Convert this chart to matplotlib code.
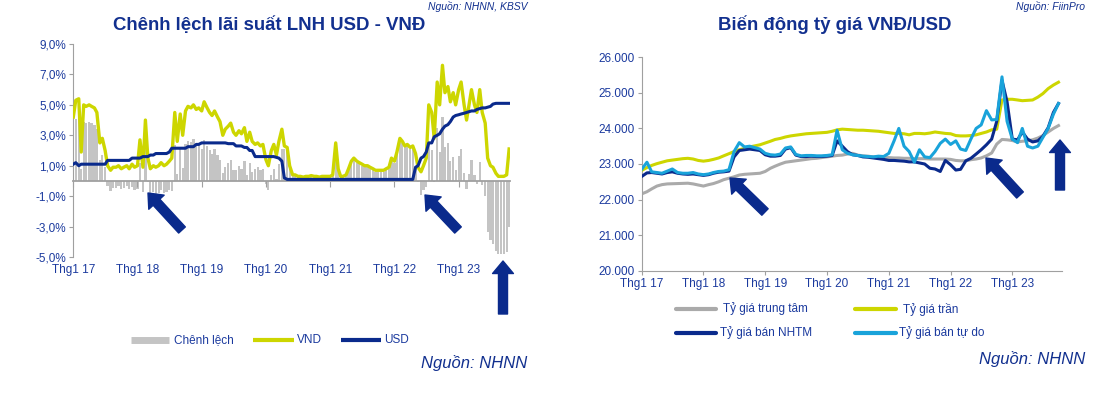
import matplotlib
matplotlib.use('Agg')
import matplotlib.pyplot as plt
import matplotlib.dates as mdates
from matplotlib.lines import Line2D
from matplotlib.patches import FancyArrowPatch
import numpy as np
import pandas as pd

plt.rcParams['font.family'] = ['Liberation Sans', 'DejaVu Sans']

W, H = 1117, 415

# ---- Biểu đồ 1: lãi suất LNH (nửa tháng một điểm, 01/2017 - 10/2023)
vnd = [
    4.2, 5.3, 5.4, 1.9, 5.0, 4.9, 5.0, 4.9, 4.8, 4.5, 2.5, 2.8, 2.0, 1.0, 0.7, 0.9, 0.9, 1.0, 0.8, 0.9, 1.0, 0.8, 1.1, 0.9,
    1.0, 2.7, 0.9, 4.0, 1.5, 0.8, 1.0, 0.9, 1.0, 1.2, 1.0, 1.1, 1.3, 1.5, 4.5, 2.6, 4.4, 3.0, 4.6, 4.9, 4.8, 5.0, 4.7, 4.8,
    4.6, 5.2, 4.8, 4.5, 4.3, 4.6, 4.2, 3.9, 3.0, 3.4, 3.6, 3.8, 3.2, 3.0, 3.3, 3.1, 3.5, 2.6, 3.2, 2.6, 2.4, 2.5, 2.3, 2.4,
    1.4, 1.0, 2.0, 2.4, 1.7, 2.6, 3.4, 2.3, 2.2, 1.0, 0.4, 0.4, 0.3, 0.3, 0.25, 0.3, 0.3, 0.35, 0.3, 0.3, 0.25, 0.3, 0.3, 0.3,
    0.3, 0.4, 2.5, 0.8, 0.3, 0.3, 0.4, 0.8, 1.3, 1.5, 1.3, 1.2, 1.1, 1.0, 1.0, 0.9, 0.8, 0.7, 0.7, 0.7, 0.7, 0.8, 0.9, 1.5,
    1.3, 1.9, 2.8, 2.6, 2.3, 2.4, 2.2, 2.3, 1.8, 0.9, 0.6, 1.0, 1.5, 5.0, 4.5, 2.8, 6.5, 5.0, 7.6, 5.8, 6.2, 5.2, 5.8, 5.0,
    6.0, 6.5, 5.0, 4.0, 5.0, 6.0, 5.0, 4.5, 6.0, 4.5, 3.8, 1.5, 1.0, 0.9, 0.5, 0.3, 0.3, 0.3, 0.4, 2.1,
]
usd = [
    1.1, 1.2, 1.0, 1.1, 1.1, 1.1, 1.1, 1.1, 1.1, 1.1, 1.1, 1.1, 1.1, 1.35, 1.35, 1.35, 1.35, 1.35, 1.35, 1.35, 1.35, 1.35, 1.5, 1.5,
    1.5, 1.5, 1.6, 1.6, 1.6, 1.7, 1.7, 1.8, 1.8, 1.8, 1.8, 1.8, 1.9, 2.15, 2.15, 2.15, 2.15, 2.15, 2.15, 2.25, 2.25, 2.25, 2.4, 2.4,
    2.5, 2.5, 2.5, 2.5, 2.5, 2.5, 2.5, 2.5, 2.5, 2.5, 2.45, 2.45, 2.45, 2.3, 2.3, 2.3, 2.2, 2.2, 2.0, 2.0, 1.6, 1.6, 1.6, 1.6,
    1.6, 1.6, 1.6, 1.6, 1.55, 1.5, 1.3, 0.2, 0.1, 0.1, 0.1, 0.1, 0.1, 0.1, 0.1, 0.1, 0.1, 0.1, 0.1, 0.1, 0.1, 0.1, 0.1, 0.1,
    0.1, 0.1, 0.1, 0.1, 0.1, 0.1, 0.1, 0.1, 0.1, 0.1, 0.1, 0.1, 0.1, 0.1, 0.1, 0.1, 0.1, 0.1, 0.1, 0.1, 0.1, 0.1, 0.1, 0.1,
    0.1, 0.1, 0.1, 0.1, 0.1, 0.1, 0.1, 0.1, 0.9, 1.0, 1.5, 1.6, 1.9, 2.5, 2.5, 2.9, 3.0, 3.1, 3.4, 3.6, 3.7, 3.9, 4.2, 4.3,
    4.35, 4.4, 4.45, 4.5, 4.55, 4.6, 4.6, 4.7, 4.75, 4.8, 4.8, 4.85, 4.9, 5.05, 5.1, 5.1, 5.1, 5.1, 5.1, 5.1,
]
spread = np.array(vnd) - np.array(usd)   # chênh lệch = VND - USD
x_ls = mdates.date2num(pd.date_range('2017-01-01', periods=len(vnd), freq='SMS').to_pydatetime())

# ---- Biểu đồ 2: tỷ giá (mỗi tháng một điểm, 01/2017 - 10/2023)
trung_tam = [
    22160, 22220, 22300, 22380, 22420, 22440, 22445, 22450, 22455, 22460, 22440, 22410,
    22380, 22420, 22450, 22500, 22560, 22600, 22640, 22690, 22710, 22720, 22730, 22740,
    22790, 22880, 22940, 23000, 23050, 23070, 23090, 23110, 23130, 23150, 23160, 23180,
    23200, 23220, 23240, 23250, 23280, 23300, 23250, 23230, 23220, 23200, 23190, 23180,
    23180, 23170, 23170, 23160, 23160, 23150, 23150, 23150, 23140, 23140, 23140, 23140,
    23130, 23100, 23090, 23090, 23120, 23140, 23170, 23230, 23310, 23560, 23690, 23680,
    23660, 23620, 23640, 23650, 23680, 23730, 23800, 23900, 24000, 24080,
]
tran = [
    22820, 22900, 22960, 23010, 23050, 23090, 23110, 23130, 23150, 23160, 23140, 23100,
    23080, 23100, 23130, 23170, 23230, 23290, 23350, 23400, 23440, 23480, 23510, 23540,
    23590, 23640, 23690, 23720, 23760, 23790, 23810, 23830, 23850, 23860, 23870, 23880,
    23890, 23920, 23960, 23980, 23970, 23960, 23950, 23950, 23940, 23930, 23920, 23900,
    23880, 23860, 23860, 23850, 23820, 23860, 23860, 23850, 23870, 23900, 23880, 23860,
    23850, 23800, 23790, 23790, 23800, 23820, 23860, 23900, 23960, 23980, 24800, 24820,
    24820, 24800, 24780, 24790, 24800, 24880, 24980, 25120, 25220, 25300,
]
nhtm = [
    22650, 22750, 22760, 22740, 22720, 22760, 22780, 22740, 22720, 22710, 22720, 22700,
    22680, 22700, 22740, 22770, 22780, 22800, 23200, 23380, 23400, 23420, 23400, 23380,
    23260, 23220, 23220, 23240, 23420, 23460, 23250, 23210, 23210, 23220, 23210, 23210,
    23220, 23240, 23650, 23500, 23350, 23260, 23240, 23200, 23190, 23170, 23150, 23130,
    23100, 23100, 23090, 23080, 23060, 23060, 23030, 23000, 22880, 22860, 22790, 23100,
    22980, 22830, 22850, 23090, 23160, 23280, 23400, 23540, 23700, 24200, 25350, 24750,
    23700, 23680, 23900, 23700, 23620, 23650, 23780, 24020, 24450, 24700,
]
tu_do = [
    22850, 23050, 22780, 22760, 22740, 22800, 22860, 22760, 22740, 22740, 22760, 22720,
    22700, 22720, 22760, 22790, 22800, 22840, 23350, 23600, 23480, 23500, 23460, 23420,
    23300, 23260, 23250, 23280, 23450, 23480, 23270, 23230, 23240, 23240, 23230, 23230,
    23240, 23260, 23950, 23400, 23300, 23260, 23240, 23220, 23210, 23200, 23220, 23210,
    23300, 23650, 24000, 23500, 23350, 23050, 23400, 23200, 23180, 23350, 23580, 23700,
    23550, 23650, 23420, 23380, 23700, 24000, 24100, 24500, 24240, 24250, 25450, 24200,
    23700, 23600, 24000, 23500, 23450, 23500, 23750, 24000, 24400, 24700,
]
x_tg = mdates.date2num(pd.date_range('2017-01-01', periods=len(trung_tam), freq='MS').to_pydatetime())

nam_labels = ['Thg1 17', 'Thg1 18', 'Thg1 19', 'Thg1 20', 'Thg1 21', 'Thg1 22', 'Thg1 23']
nam_ticks = mdates.date2num(pd.date_range('2017-01-01', periods=7, freq='YS').to_pydatetime())
x_end = mdates.date2num(pd.Timestamp('2023-10-20').to_pydatetime())

# màu
XANH_CHU = '#1b3a9e'
TITLE_C = '#12308f'
VANG = '#cdd600'
NAVY = '#0a2a8c'
XANH_NHAT = '#19a3da'
XAM = '#c4c4c4'
XAM_TT = '#aaaaaa'
TRUC = '#a0a0a0'

fig = plt.figure(figsize=(W / 100, H / 100), dpi=100)


def fx(px):
    return px / W


def fy(py):
    return 1 - py / H


# ================= Chart 1 =================
ax1 = fig.add_axes([fx(73.3), fy(257), fx(510 - 73.3), (257 - 44) / H])
ax1.bar(x_ls, spread, width=12.5, color=XAM, linewidth=0, zorder=1)
ax1.plot(x_ls, vnd, color=VANG, lw=2.4, zorder=3)
ax1.plot(x_ls, usd, color=NAVY, lw=2.2, zorder=4)
ax1.set_xlim(nam_ticks[0], x_end)
ax1.set_ylim(-5, 9)
ax1.set_yticks([9, 7, 5, 3, 1, -1, -3, -5])
ax1.set_yticklabels(['9,0%', '7,0%', '5,0%', '3,0%', '1,0%', '-1,0%', '-3,0%', '-5,0%'])
for s in ['top', 'right']:
    ax1.spines[s].set_visible(False)
ax1.spines['left'].set_color(TRUC)
ax1.spines['bottom'].set_color(TRUC)
ax1.spines['bottom'].set_linewidth(1.3)
ax1.spines['bottom'].set_position(('data', 0))
ax1.set_xticks(nam_ticks)
ax1.tick_params(axis='x', direction='out', length=4, color=TRUC, labelbottom=False)
ax1.tick_params(axis='y', direction='out', length=3, color=TRUC, labelsize=8.5,
                labelcolor=XANH_CHU, pad=2)
sec = ax1.secondary_xaxis('bottom')
sec.set_xticks(nam_ticks)
sec.set_xticklabels(nam_labels)
sec.tick_params(length=0, pad=5, labelsize=8.5, labelcolor=XANH_CHU)
sec.spines['bottom'].set_visible(False)

fig.text(fx(269), fy(25), 'Chênh lệch lãi suất LNH USD - VNĐ', ha='center', va='center',
         fontsize=13.4, fontweight='bold', color=TITLE_C)

# chú thích
leg1 = [(131, 169, XAM, 5.0, 'Chênh lệch', 174),
        (253, 294, VANG, 3.0, 'VND', 297),
        (341, 381, NAVY, 3.0, 'USD', 384)]
for x0, x1, c, w, lab, tx in leg1:
    fig.add_artist(Line2D([fx(x0), fx(x1)], [fy(340), fy(340)], color=c, lw=w,
                          solid_capstyle='butt', transform=fig.transFigure))
    fig.text(fx(tx), fy(340), lab, ha='left', va='center', fontsize=8.5, color=XANH_CHU)
fig.text(fx(527), fy(363), 'Nguồn: NHNN', ha='right', va='center', fontsize=12,
         style='italic', color=TITLE_C)
# nguồn của biểu đồ phía trên (bị cắt trong ảnh gốc) - để nhỏ ở mép trên
fig.text(fx(527), fy(1), 'Nguồn: NHNN, KBSV', ha='right', va='top', fontsize=7.5,
         style='italic', color=TITLE_C)

# ================= Chart 2 =================
ax2 = fig.add_axes([fx(641.7), fy(270.7), fx(1061.7 - 641.7), (270.7 - 57.3) / H])
ax2.plot(x_tg, trung_tam, color=XAM_TT, lw=2.2, zorder=2)
ax2.plot(x_tg, tran, color=VANG, lw=2.2, zorder=3)
ax2.plot(x_tg, nhtm, color=NAVY, lw=2.2, zorder=4)
ax2.plot(x_tg, tu_do, color=XANH_NHAT, lw=2.2, zorder=5)
ax2.set_xlim(nam_ticks[0], x_end)
ax2.set_ylim(20000, 26000)
yt = list(range(20000, 26001, 1000))
ax2.set_yticks(yt)
ax2.set_yticklabels([f'{v:,}'.replace(',', '.') for v in yt])
ax2.set_xticks(nam_ticks)
ax2.set_xticklabels(nam_labels)
for s in ['top', 'right']:
    ax2.spines[s].set_visible(False)
for s in ['left', 'bottom']:
    ax2.spines[s].set_color(TRUC)
ax2.tick_params(direction='out', length=3, color=TRUC, labelsize=8.5, labelcolor=XANH_CHU)
ax2.tick_params(axis='x', pad=2)
ax2.tick_params(axis='y', pad=2)

fig.text(fx(835), fy(25), 'Biến động tỷ giá VNĐ/USD', ha='center', va='center',
         fontsize=13.4, fontweight='bold', color=TITLE_C)

leg2 = [(676, 716, 309, XAM_TT, 'Tỷ giá trung tâm', 723),
        (855, 896, 309, VANG, 'Tỷ giá trần', 903),
        (676, 716, 333, NAVY, 'Tỷ giá bán NHTM', 720),
        (855, 896, 333, XANH_NHAT, 'Tỷ giá bán tự do', 899)]
for x0, x1, yy, c, lab, tx in leg2:
    fig.add_artist(Line2D([fx(x0), fx(x1)], [fy(yy), fy(yy)], color=c, lw=3.0,
                          solid_capstyle='round', transform=fig.transFigure))
    fig.text(fx(tx), fy(yy), lab, ha='left', va='center', fontsize=8.5, color=XANH_CHU)
fig.text(fx(1085), fy(359), 'Nguồn: NHNN', ha='right', va='center', fontsize=12,
         style='italic', color=TITLE_C)
fig.text(fx(1085), fy(1), 'Nguồn: FiinPro', ha='right', va='top', fontsize=7.5,
         style='italic', color=TITLE_C)

# ---- mũi tên
arrows = [((182, 230), (148, 193)), ((458, 230), (425, 195)), ((503, 314), (503, 261)),
          ((765, 212), (730, 178)), ((1020, 195), (986, 158)), ((1060, 190), (1060, 140))]
for (xa, ya), (xb, yb) in arrows:
    fig.add_artist(FancyArrowPatch((fx(xa), fy(ya)), (fx(xb), fy(yb)),
                                   arrowstyle='simple,head_width=1.5,head_length=0.9,tail_width=0.65',
                                   mutation_scale=10, color=NAVY, shrinkA=0, shrinkB=0,
                                   transform=fig.transFigure))

fig.savefig('out.png', dpi=100)
